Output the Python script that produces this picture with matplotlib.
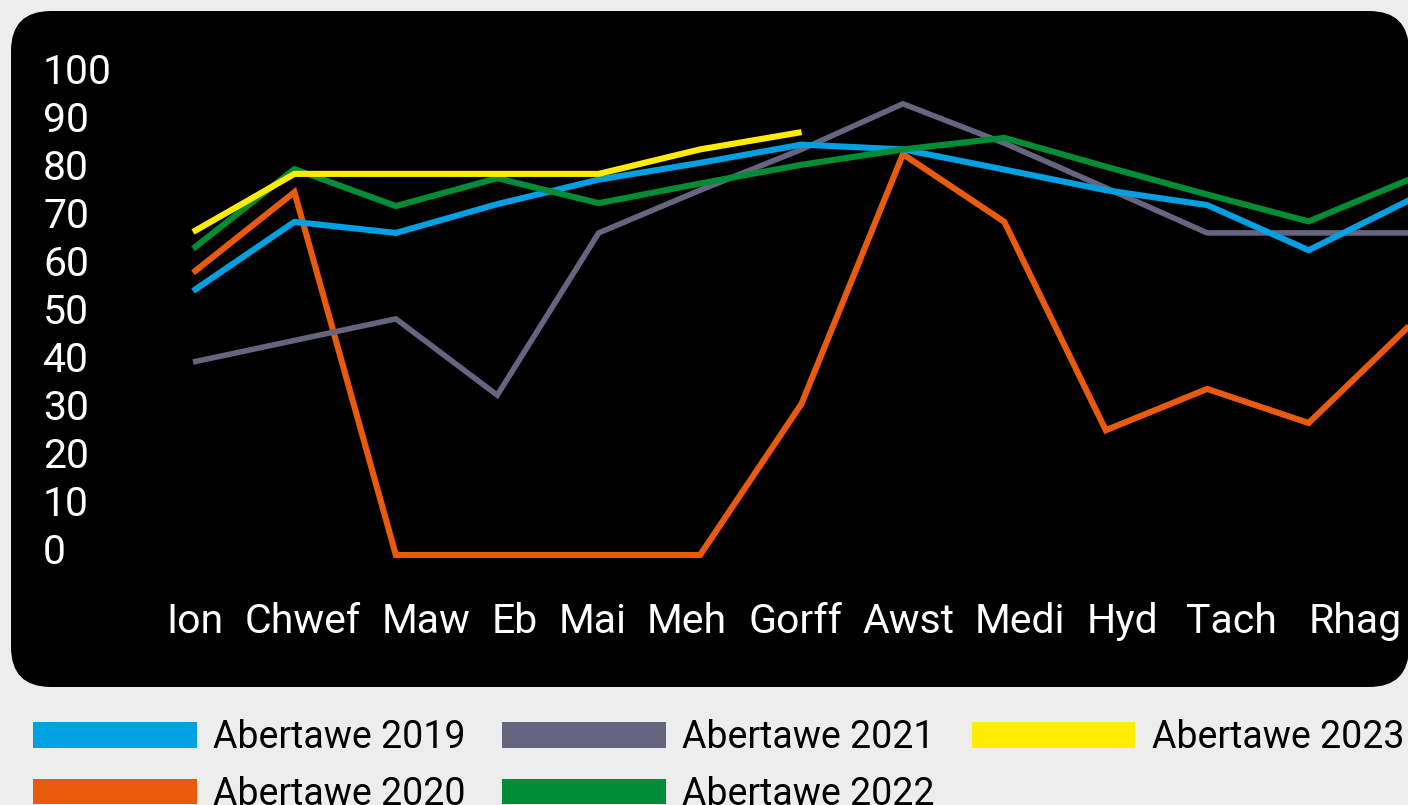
import matplotlib
matplotlib.use("Agg")
import matplotlib.pyplot as plt
from matplotlib.patches import FancyBboxPatch, Patch
from matplotlib.transforms import IdentityTransform, ScaledTranslation

# ---------------- data ----------------
months = ["Ion", "Chwef", "Maw", "Eb", "Mai", "Meh", "Gorff",
          "Awst", "Medi", "Hyd", "Tach", "Rhag"]
# the series continue one step past Rhag (clipped at the chart's right edge)
n_points = 13

series_names = ["Abertawe 2019", "Abertawe 2020", "Abertawe 2021",
                "Abertawe 2022", "Abertawe 2023"]
abertawe_2019 = [55.0, 69.4, 67.1, 73.1, 78.2, 81.7, 85.5, 84.5, 80.3, 76.0, 72.9, 63.5, 74.0]
abertawe_2020 = [58.8, 75.6, 0, 0, 0, 0, 31.5, 83.5, 69.4, 26.0, 34.6, 27.5, 47.9]
abertawe_2021 = [40.2, 44.7, 49.2, 33.3, 67.1, 76.0, 84.5, 94.0, 85.8, 76.5, 67.1, 67.1, 67.1]
abertawe_2022 = [63.8, 80.4, 72.7, 78.5, 73.3, 77.4, 81.3, 84.5, 86.9, 80.9, 75.1, 69.5, 78.3]
abertawe_2023 = [67.3, 79.4, 79.4, 79.4, 79.4, 84.5, 88.1]
y_ticks = list(range(0, 101, 10))

# ---------------- style / layout ----------------
colors = ["#00A0E3", "#E95A0C", "#65657F", "#008D36", "#FFEC00"]
zorders = [4, 2, 3, 5, 6]
widths = [4.4, 4.4, 4.0, 4.4, 4.4]
label_offsets = [0.02, 0.08, 0.30, 0.17, -0.06, -0.13, -0.06, 0.05, 0.15, 0.16, 0.24, 0.46]
FONT = "Roboto"
W, H = 1408, 805

plt.rcParams["font.family"] = [FONT, "DejaVu Sans"]

fig = plt.figure(figsize=(W / 100, H / 100), dpi=100)
fig.patch.set_facecolor("#EDEDED")

# black rounded panel (pixel coordinates)
panel = FancyBboxPatch((11, H - 687), 1398, 676,
                       boxstyle="round,pad=0,rounding_size=40",
                       transform=IdentityTransform(), facecolor="black",
                       edgecolor="none", zorder=-5)
fig.patches.append(panel)

ax = fig.add_axes([150 / W, (H - 580) / H, (W - 150) / W, 540 / H])
ax.set_zorder(1)
ax.set_facecolor("none")
for s in ax.spines.values():
    s.set_visible(False)

all_series = [abertawe_2019, abertawe_2020, abertawe_2021, abertawe_2022, abertawe_2023]
for vals, c, z, lw in zip(all_series, colors, zorders, widths):
    ax.plot(range(len(vals)), vals, color=c, lw=lw, zorder=z,
            solid_joinstyle="miter", solid_capstyle="butt")

ax.set_xlim(-43 / 101.42, (W - 193) / 101.42)
ax.set_ylim(-25 / 4.8, 515 / 4.8)

ax.set_yticks(y_ticks)
ax.set_yticklabels([str(v) for v in y_ticks])
ax.tick_params(axis="y", length=0, pad=77, labelsize=29.5, labelcolor="white")
shift_up = ScaledTranslation(0, 7 / 100, fig.dpi_scale_trans)
for t in ax.get_yticklabels():
    t.set_horizontalalignment("left")
    t.set_transform(t.get_transform() + shift_up)

ax.set_xticks([i + o for i, o in enumerate(label_offsets)])
ax.set_xticklabels(months)
ax.tick_params(axis="x", length=0, pad=16, labelsize=29.5, labelcolor="white")

handles = [Patch(facecolor=c, edgecolor="none", linewidth=0) for c in colors]
fig.legend(handles, series_names, loc="upper left",
           bbox_to_anchor=(33 / W, 1 - 719 / H), ncol=3, frameon=False,
           borderaxespad=0, borderpad=0, handlelength=4.37, handleheight=0.67,
           handletextpad=0.43, columnspacing=0.98, labelspacing=0.52,
           fontsize=27)

fig.savefig("out.png", dpi=100, facecolor=fig.get_facecolor())
